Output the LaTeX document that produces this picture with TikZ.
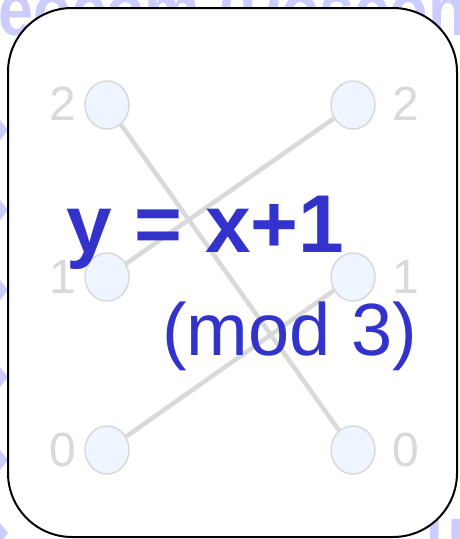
\documentclass[tikz,border=0pt]{standalone}
\usepackage{fontspec}
\setmainfont{Liberation Sans}
\usetikzlibrary{shapes.geometric}
\definecolor{wm}{HTML}{CCCCFF}
\definecolor{edgegray}{HTML}{D9D9D9}
\definecolor{nodefill}{HTML}{EEF5FF}
\definecolor{txtblue}{HTML}{3333CC}
\pgfdeclarelayer{back}
\pgfdeclarelayer{edges}
\pgfsetlayers{back,edges,main}
\tikzset{
  vtx/.style={ellipse, draw=edgegray, fill=nodefill, line width=1.5pt,
    minimum width=44pt, minimum height=48pt, inner sep=0pt},
  lbl/.style={text=edgegray, inner sep=0pt, font=\fontsize{48}{50}\selectfont},
  link/.style={draw=edgegray, line width=4.5pt},
  wmark/.style={text=wm, inner sep=0pt, xscale=0.85, font=\bfseries\fontsize{74}{78}\selectfont},
  frame/.style={draw=black, fill=white, line width=2pt, rounded corners=64pt}
}
\begin{document}
\begin{tikzpicture}[x=1pt,y=-1pt]
\useasboundingbox (0,0) rectangle (460,539);
\begin{pgfonlayer}{back}
  \fill[white] (0,0) rectangle (460,539);
  \node[wmark, anchor=base west] (wmtop) at (-2,35) {eocom (Poscon};
  \node[wmark, anchor=north west] (wmbot) at (426,518) {uc};
  \foreach \yy in {130,210,290,377,460,533}
    \fill[wm] (-8,\yy) -- (0,\yy-10) -- (8,\yy) -- (0,\yy+10) -- cycle;
  \draw[frame] (8,8) rectangle (457,537);
\end{pgfonlayer}

\node[vtx] (L2) at (107,105) {};
\node[vtx] (L1) at (107,277) {};
\node[vtx] (L0) at (107,450) {};
\node[vtx] (R2) at (353,105) {};
\node[vtx] (R1) at (353,277) {};
\node[vtx] (R0) at (353,450) {};

\node[lbl, anchor=east] (l2) at (76,104) {2};
\node[lbl, anchor=east] (l1) at (76,277) {1};
\node[lbl, anchor=east] (l0) at (76,450) {0};
\node[lbl, anchor=west] (r2) at (392,104) {2};
\node[lbl, anchor=west] (r1) at (392,277) {1};
\node[lbl, anchor=west] (r0) at (392,450) {0};

\begin{pgfonlayer}{edges}
  \draw[link] (L2) -- (R0);
  \draw[link] (R2) -- (L1);
  \draw[link] (L0) -- (R1);
\end{pgfonlayer}

\node[text=txtblue, inner sep=0pt, anchor=base west,
  font=\bfseries\fontsize{82}{86}\selectfont] (eq) at (66,252) {y = x+1};
\node[text=txtblue, inner sep=0pt, anchor=base west,
  font=\fontsize{74}{78}\selectfont] (mod) at (162,355) {(mod 3)};
\end{tikzpicture}
\end{document}
